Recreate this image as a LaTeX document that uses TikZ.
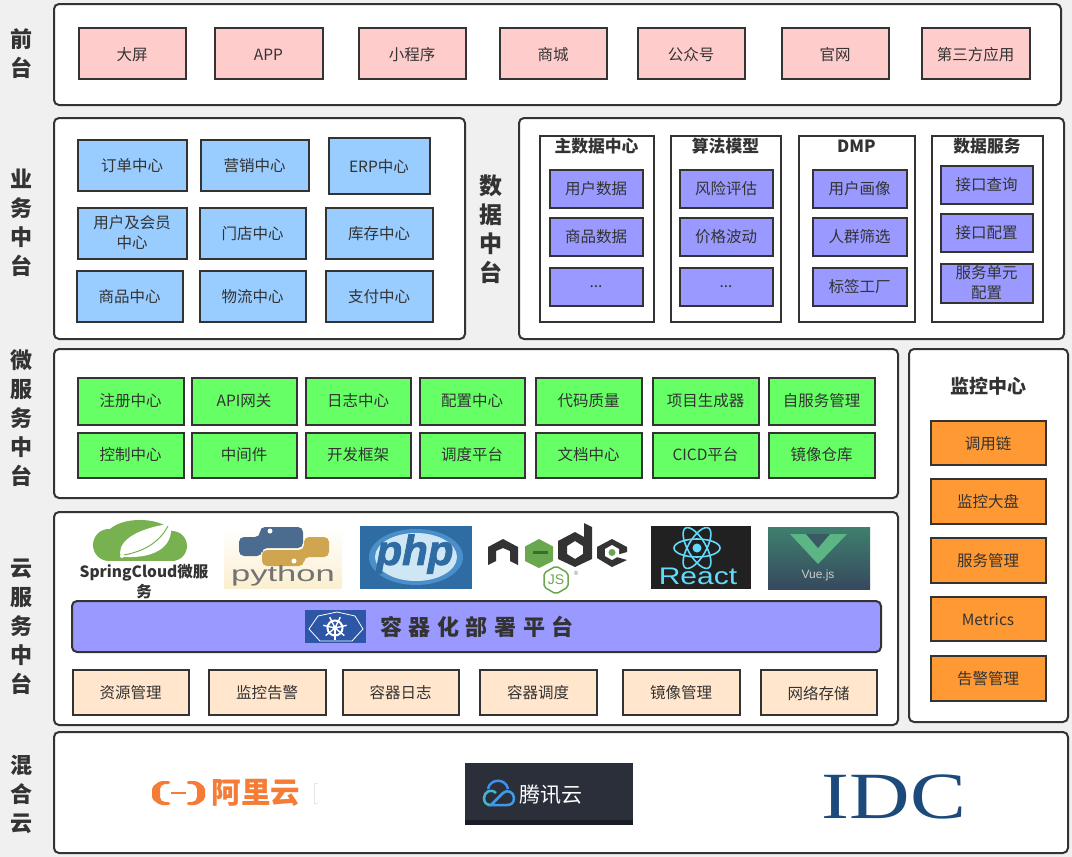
\documentclass[tikz,border=0pt]{standalone}
\usepackage{fontspec}
\setmainfont{Noto Sans CJK SC}
\newfontfamily\logofont{Liberation Sans}
\newfontfamily\idcfont{Liberation Serif}
\definecolor{pagegrey}{HTML}{F0F0F0}
\definecolor{inkgrey}{HTML}{333333}
\definecolor{frontpink}{HTML}{FFCCCC}
\definecolor{bizblue}{HTML}{99CCFF}
\definecolor{datapurple}{HTML}{9999FF}
\definecolor{microgreen}{HTML}{66FF66}
\definecolor{cloudpeach}{HTML}{FFE6CC}
\definecolor{monitororange}{HTML}{FF9933}
\definecolor{springgreen}{HTML}{77B150}
\definecolor{pyblue}{HTML}{4B6B8F}
\definecolor{pygold}{HTML}{CFA64F}
\definecolor{pybeige}{HTML}{FCEFD0}
\definecolor{phpblue}{HTML}{2F6CA3}
\definecolor{phplight}{HTML}{CFE6F5}
\definecolor{phpmid}{HTML}{4A8FC9}
\definecolor{nodegreen}{HTML}{6AA84F}
\definecolor{nodedark}{HTML}{3B6B2D}
\definecolor{reactcyan}{HTML}{61DAFB}
\definecolor{vuegreen}{HTML}{5CB585}
\definecolor{vuetop}{HTML}{3F7F6E}
\definecolor{vuebottom}{HTML}{36495E}
\definecolor{k8sblue}{HTML}{2E56A6}
\definecolor{aliorange}{HTML}{F47C36}
\definecolor{tencentbg}{HTML}{2B2F3A}
\definecolor{tencentband}{HTML}{1A1D28}
\definecolor{tencentblue}{HTML}{3F8EF0}
\definecolor{tencentteal}{HTML}{3FB8D0}
\definecolor{idcblue}{HTML}{1C4A7A}
\begin{document}
\begin{tikzpicture}[x=1pt,y=-1pt,
    spanbox/.style n args={4}{minimum width={#3-#1-1},minimum height={#4-#2-1},at={({(#1+#3)/2},{(#2+#4)/2})}},
    panel/.style={draw=inkgrey,line width=2pt,fill=white,rounded corners=5pt,inner sep=0pt},
    cell/.style={draw=inkgrey,line width=2pt,inner sep=0pt,align=center,text=inkgrey,font=\fontsize{15.5}{20}\selectfont},
    column/.style={draw=inkgrey,line width=2pt,fill=white,inner sep=0pt},
    coltitle/.style={text=inkgrey,inner sep=0pt,font=\fontsize{16.8}{20}\selectfont\bfseries},
    sidelabel/.style={text=inkgrey,inner sep=0pt,align=center,font=\fontsize{22}{29}\selectfont\bfseries}]
  \def \etc {...};

  \useasboundingbox (0,0) rectangle (1072,857);
  \fill[pagegrey] (0,0) rectangle (1072,857);

  \foreach \nm/\xa/\ya/\xb/\yb in {
      front/53.5/3.5/1061.5/105.5, biz/53.5/117.5/465.5/339.5, data/518.5/117.5/1064.5/339.5,
      micro/53.5/348.5/898.5/498.5, cloud/53.5/511.5/898.5/725.5, monitor/908.5/348.5/1068.5/722.5,
      hybrid/53.5/731.5/1068.5/853.5} {
    \node[panel,spanbox={\xa}{\ya}{\xb}{\yb}] (\nm) {};
  }

  \node[sidelabel] (frontlabel) at (21,54) {前\\台};
  \node[sidelabel] (bizlabel) at (21,223) {业\\务\\中\\台};
  \node[sidelabel,font=\fontsize{23}{29}\selectfont\bfseries] (datalabel) at (491,229) {数\\据\\中\\台};
  \node[sidelabel] (microlabel) at (21,418) {微\\服\\务\\中\\台};
  \node[sidelabel] (cloudlabel) at (21,627) {云\\服\\务\\中\\台};
  \node[sidelabel] (hybridlabel) at (21,794) {混\\合\\云};

  \foreach \nm/\xa/\xb/\lbl in {
      screen/78/186/大屏, app/214/323/APP, mini/358/466/小程序, mall/499/607/商城,
      wechat/637/745/公众号, site/781/889/官网, third/921/1030/第三方应用} {
    \node[cell,fill=frontpink,spanbox={\xa}{27}{\xb}{79}] (\nm) {\raisebox{-2pt}[\height][\depth]{\lbl}};
  }

  \foreach \nm/\xa/\ya/\xb/\yb/\lbl in {
      order/77/139/187/191/订单中心, market/200/139/309/191/营销中心, erp/328/137/430/194/ERP中心,
      store/199/207/306/259/门店中心, stock/325/207/433/259/库存中心,
      goods/76/270/183/322/商品中心, logistics/199/270/306/322/物流中心, pay/325/270/433/322/支付中心} {
    \node[cell,fill=bizblue,spanbox={\xa}{\ya}{\xb}{\yb}] (\nm) {\raisebox{-1pt}[\height][\depth]{\lbl}};
  }
  \node[cell,fill=bizblue,spanbox={77}{207}{187}{259}] (member) {用户及会员\\中心};

  \foreach \nm/\xa/\xb/\lbl in {
      master/539/654/主数据中心, algo/670/781/算法模型, dmp/798/915/DMP, service/931/1043/数据服务} {
    \node[column,spanbox={\xa}{135}{\xb}{322}] (\nm) {};
    \node[coltitle] (\nm title) at ({(\xa+\xb)/2},146) {\lbl};
  }

  \foreach \nm/\xa/\xb/\ya/\yb/\lbl in {
      userdata/549/643/169/208/用户数据, goodsdata/549/643/217/256/商品数据, moredata/549/643/267/306/\etc,
      risk/679/773/169/208/风险评估, price/679/773/217/256/价格波动, morealgo/679/773/267/306/\etc,
      portrait/812/907/169/208/用户画像, crowd/812/907/217/256/人群筛选, tagfactory/812/907/267/306/标签工厂,
      apiquery/940/1033/165/204/接口查询, apiconfig/940/1033/213/252/接口配置, unitconfig/940/1033/263/303/{服务单元\\配置}} {
    \node[cell,fill=datapurple,spanbox={\xa}{\ya}{\xb}{\yb}] (\nm) {\lbl};
  }

  \foreach \nm/\xa/\xb/\lbl in {
      registry/77/184/注册中心, gateway/191/297/API网关, logs/305/411/日志中心, config/419/525/配置中心,
      quality/535/642/代码质量, generator/652/759/项目生成器, selfservice/768/875/自服务管理} {
    \node[cell,fill=microgreen,spanbox={\xa}{377}{\xb}{425}] (\nm) {\lbl};
  }
  \foreach \nm/\xa/\xb/\lbl in {
      control/77/184/控制中心, middleware/191/297/中间件, framework/305/411/开发框架, schedule/419/525/调度平台,
      docs/535/642/文档中心, cicd/652/759/CICD平台, mirror/768/875/镜像仓库} {
    \node[cell,fill=microgreen,spanbox={\xa}{432}{\xb}{478}] (\nm) {\lbl};
  }

  \node[panel,fill=datapurple,spanbox={71.5}{600.5}{881.5}{652.5}] (deploy) {};
  \node[inner sep=0pt,text=inkgrey,font=\fontsize{22}{26}\selectfont\bfseries\addfontfeature{LetterSpace=30}] (deploytitle) at (477,627) {容器化部署平台};

  \foreach \nm/\xa/\xb/\lbl in {
      resource/72/189/资源管理, alarm/208/326/监控告警, clog/342/459/容器日志,
      cschedule/479/597/容器调度, image/622/740/镜像管理, netstore/760/877/网络存储} {
    \node[cell,fill=cloudpeach,spanbox={\xa}{669}{\xb}{715}] (\nm) {\raisebox{-1pt}[\height][\depth]{\lbl}};
  }

  \node[text=inkgrey,inner sep=0pt,font=\fontsize{19}{22}\selectfont\bfseries] (monitortitle) at (988,386) {监控中心};
  \foreach \nm/\ya/\yb/\lbl in {
      trace/420/465/调用链, dashboard/478/524/监控大盘, svcmanage/537/583/服务管理,
      metrics/596/641/Metrics, alert/655/701/告警管理} {
    \node[cell,fill=monitororange,spanbox={930}{\ya}{1046}{\yb}] (\nm) {\raisebox{-1pt}[\height][\depth]{\lbl}};
  }

  \fill[springgreen] (109,545) circle (16);
  \fill[springgreen] (172,546) circle (15);
  \fill[springgreen] (140,537) ellipse (34 and 17);
  \fill[springgreen] (109,537) rectangle (172,561);
  \fill[white] (168,524) .. controls (142,528) and (120,538) .. (120,553) .. controls (120,556) and (122,557) .. (126,557) .. controls (150,558) and (174,550) .. (171,524) -- cycle;
  \draw[springgreen,line width=1pt] (124,555) .. controls (140,552) and (158,545) .. (168,526);
  \fill[white] (122,556) circle (2);
  \node[inner sep=0pt,align=center,text=inkgrey,font=\fontsize{15.5}{20}\selectfont\bfseries] (springlabel) at (144,582) {SpringCloud微服\\务};

  \shade[top color=white,bottom color=pybeige] (224,527) rectangle (342,588);
  \fill[pyblue,rounded corners=5pt] (260,527) -- (303,527) -- (303,548) -- (262,548) -- (262,556) -- (239,556) -- (239,537) -- (260,537) -- cycle;
  \fill[pygold,rounded corners=5pt] (304,537) -- (329,537) -- (329,557) -- (304,557) -- (304,566) -- (262,566) -- (262,550) -- (304,550) -- cycle;
  \fill[white] (270,531) circle (2.5);
  \fill[white] (294,561) circle (2.5);
  \node[inner sep=0pt,text=black!55,xscale=1.57,transform shape,font=\logofont\fontsize{22}{24}\selectfont] (pythonlabel) at (283,576) {python};

  \fill[phpblue] (360,526) rectangle (472,589);
  \fill[phpmid] (416,557) ellipse (47 and 28);
  \fill[phplight] (416,557) ellipse (41 and 24);
  \node[inner sep=0pt,text=phpblue,font=\logofont\fontsize{42}{44}\selectfont\bfseries\itshape\addfontfeature{FakeBold=2}] (phplabel) at (415,554) {php};

  \fill[inkgrey] (488,565) -- (488,547) -- (503,539) -- (518,547) -- (518,565) -- (510,561) -- (510,551) -- (503,548) -- (496,551) -- (496,561) -- cycle;
  \fill[nodegreen] (539,539) -- (553,546.5) -- (553,561) -- (539,568) -- (525,561) -- (525,546.5) -- cycle;
  \fill[nodedark] (533,551) rectangle (548,553.5);
  \fill[inkgrey,even odd rule] (584,523) -- (592,527) -- (592,559) -- (575,567) -- (558,559) -- (558,541) -- (575,532) -- (584,537) -- cycle
    (575,541) -- (583,546) -- (583,554) -- (575,559) -- (567,554) -- (567,546) -- cycle;
  \fill[inkgrey] (612,539) -- (627,547) -- (627,552) -- (613,556) -- (627,560) -- (612,567) -- (597,558) -- (597,547) -- cycle;
  \fill[white] (612,545) -- (619,549) -- (619,556) -- (612,560) -- (605,556) -- (605,549) -- cycle;
  \fill[nodegreen] (612,552.5) circle (3.5);
  \draw[nodegreen,line width=1.5pt,rounded corners=2pt] (556,566) -- (568,573) -- (568,587) -- (556,594) -- (544,587) -- (544,573) -- cycle;
  \node[inner sep=0pt,text=nodegreen,font=\logofont\fontsize{14}{16}\selectfont] (jslabel) at (556,580) {JS};
  \node[inner sep=0pt,text=black!50,font=\logofont\fontsize{6}{7}\selectfont] (nodemark) at (576,573) {®};

  \fill[black!87] (651,526) rectangle (751,589);
  \foreach \ang in {0,60,120} {
    \draw[reactcyan,line width=1.6pt,rotate around={\ang:(697,548)}] (697,548) ellipse (23 and 9);
  }
  \fill[reactcyan] (697,548) circle (4.5);
  \node[inner sep=0pt,text=reactcyan,xscale=1.25,transform shape,font=\logofont\fontsize{24}{26}\selectfont] (reactlabel) at (698,576) {React};

  \shade[top color=vuetop,bottom color=vuebottom] (768,527) rectangle (870,589);
  \fill[vuegreen] (790,534) -- (847,534) -- (818,564) -- cycle;
  \fill[vuebottom!70!vuetop] (806,534) -- (830,534) -- (818,548) -- cycle;
  \node[inner sep=0pt,text=white!80!black,font=\logofont\fontsize{12}{14}\selectfont] (vuelabel) at (818,575) {Vue.js};

  \fill[k8sblue] (305,610) rectangle (366,643);
  \draw[white,line width=0.8pt] (337,612) -- (355,616) -- (363,629) -- (352,641) -- (320,641) -- (309,629) -- (318,616) -- cycle;
  \draw[white,line width=2pt] (335,628) circle (7.5);
  \foreach \ang in {90,141,193,244,296,347,39} {
    \draw[white,line width=1.4pt] (335,628) -- ++({\ang}:12);
  }
  \fill[white] (335,628) circle (2.5);

  \fill[aliorange,rounded corners=2pt] (170,781) -- (160,781) -- (152,787) -- (152,799) -- (160,805) -- (170,805) -- (170,802) -- (163,802) -- (160,799) -- (160,787) -- (163,784) -- (170,784) -- cycle;
  \fill[aliorange,rounded corners=2pt] (187,781) -- (197,781) -- (205,787) -- (205,799) -- (197,805) -- (187,805) -- (187,802) -- (194,802) -- (197,799) -- (197,787) -- (194,784) -- (187,784) -- cycle;
  \draw[aliorange,line width=2pt] (171,793) -- (186,793);
  \node[inner sep=0pt,text=aliorange,font=\fontsize{29.5}{32}\selectfont\bfseries] (alilabel) at (256,793) {阿里云};
  \draw[black!10,line width=1pt] (318,783) -- (314,783) -- (314,803) -- (318,803);

  \fill[tencentbg] (465,763) rectangle (633,825);
  \fill[tencentband] (465,820) rectangle (633,825);
  \draw[tencentteal,line width=2.5pt] (496,793) .. controls (491,788) and (484,792) .. (484,798) .. controls (484,803) and (487,805) .. (491,805);
  \draw[tencentblue!70!tencentteal,line width=2.5pt] (491,805) -- (503,793) .. controls (507,789) and (514,792) .. (514,798) .. controls (514,803) and (511,805) .. (507,805) -- cycle;
  \draw[tencentblue,line width=2.5pt] (488,789) .. controls (490,778) and (506,778) .. (508,789);
  \node[inner sep=0pt,text=white,font=\fontsize{21}{24}\selectfont] (tencentlabel) at (551,795) {腾讯云};

  \node[inner sep=0pt,text=idcblue,xscale=1.27,transform shape,font=\idcfont\fontsize{66}{70}\selectfont] (idclabel) at (894,797) {IDC};
\end{tikzpicture}
\end{document}
